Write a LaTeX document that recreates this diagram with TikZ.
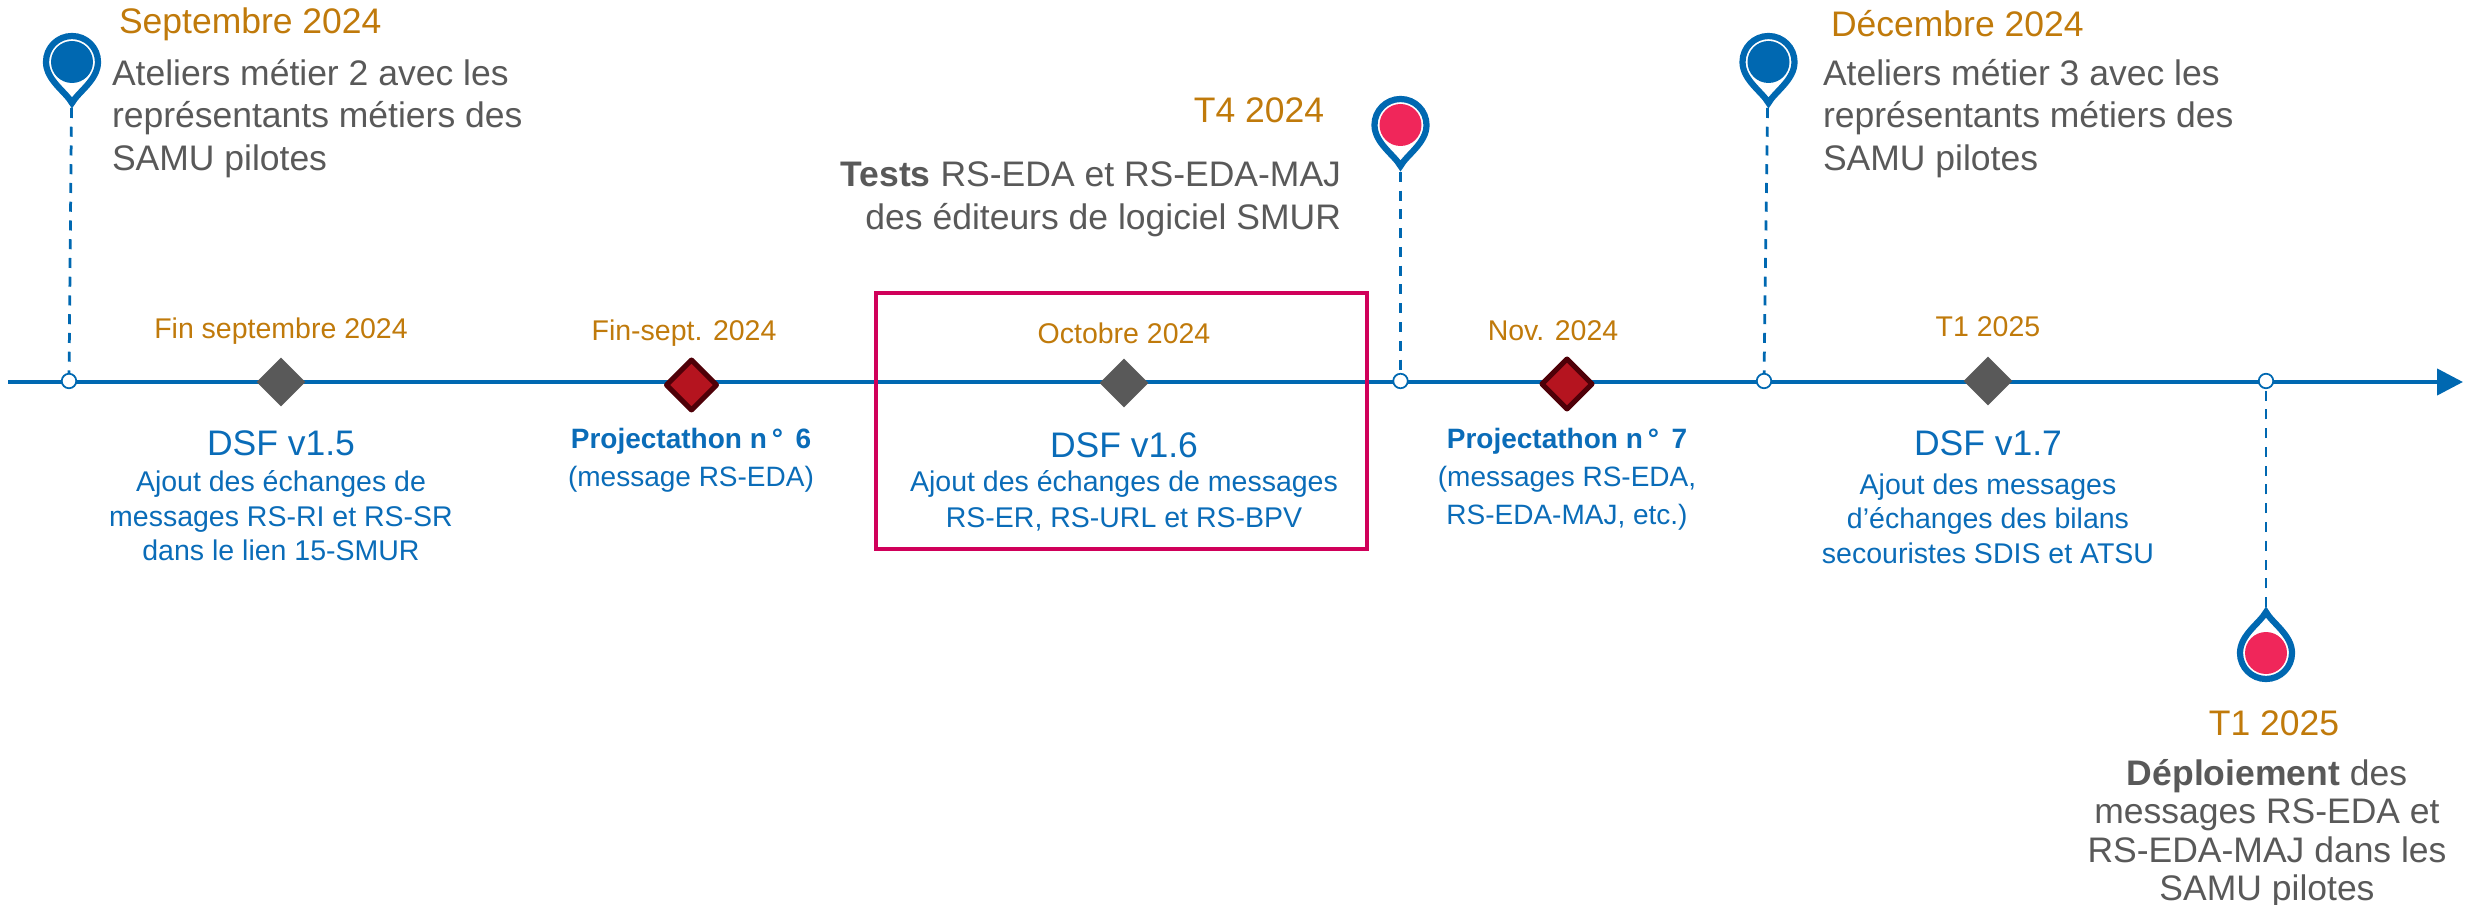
\documentclass[tikz,border=0pt]{standalone}
\usepackage{fontspec}
\setmainfont{Liberation Sans}
\usetikzlibrary{arrows.meta,shapes.geometric}
\definecolor{lineblue}{HTML}{0068B1}
\definecolor{noteblue}{HTML}{0A6CB8}
\definecolor{dateorange}{HTML}{C07A0B}
\definecolor{textgray}{HTML}{595959}
\definecolor{boxred}{HTML}{D0005A}
\definecolor{dotpink}{HTML}{F0265A}
\definecolor{redfill}{HTML}{B5141F}
\definecolor{reddark}{HTML}{4F0008}
\newcommand{\bigtxt}{\fontsize{14.2pt}{17.1pt}\selectfont}
\newcommand{\smalltxt}{\fontsize{11.4pt}{13.7pt}\selectfont}
\newcommand{\projtxt}{\fontsize{11.2pt}{15.2pt}\selectfont}
\begin{document}
\begin{tikzpicture}[x=0.4pt,y=-0.4pt]
\tikzset{ >=latex, inner sep=0pt, outer sep=0pt,
  bigdate/.style={text=dateorange, font=\bigtxt},
  bignote/.style={text=textgray, font=\bigtxt},
  smalldate/.style={text=dateorange, font=\smalltxt},
  dsftitle/.style={text=noteblue, font=\bigtxt},
  smallnote/.style={text=noteblue, font=\smalltxt, align=center},
  projnote/.style={text=noteblue, font=\projtxt, align=center},
  gray diamond/.style={diamond, aspect=1, fill=textgray, minimum size=19.5pt},
  red diamond/.style={diamond, aspect=1.07, fill=redfill, draw=reddark, line width=2pt, line join=round, minimum size=20pt},
  stem/.style={lineblue, line width=1.1pt, dash pattern=on 4pt off 3.5pt},
  dot/.style={circle, fill=white, draw=lineblue, line width=0.7pt, minimum size=5.8pt},
  pin/.pic={
    \draw [lineblue, line width=2.5pt, line join=miter, fill=white]
      (0,41) .. controls (-6,30) and (-26,18) .. (-26,0)
      arc (180:360:26) .. controls (26,18) and (6,30) .. cycle;
  },
}
\useasboundingbox (0,0) rectangle (2474,905);

%\draw [lightgray, dashed](0,0) rectangle (2474,905);

\coordinate (LS) at (8,382);
\coordinate (LE) at (2463,382);
\draw [-{Triangle[length=10.4pt,width=10.4pt]}, lineblue, line width=1.7pt] (LS) -- (LE);

% pins
\pic at (72,62) {pin};
\pic at (1400.5,125) {pin};
\pic at (1768.5,62) {pin};
\pic [yscale=-1] at (2266,653) {pin};

\node [circle, fill=lineblue, minimum size=16.8pt] (P1) at (72,62) {};
\node [circle, fill=dotpink, minimum size=16.8pt] (P2) at (1400.5,125) {};
\node [circle, fill=lineblue, minimum size=16.8pt] (P3) at (1768.5,62) {};
\node [circle, fill=dotpink, minimum size=16.8pt] (P4) at (2266,653) {};

\coordinate (T1) at (71.5,108);
\coordinate (T2) at (1400.5,172);
\coordinate (T3) at (1767.5,108);
\coordinate (T4) at (2266,607);

\node [dot] (C1) at (69,381) {};
\node [dot] (C2) at (1400.5,381) {};
\node [dot] (C3) at (1764,381) {};
\node [dot] (C4) at (2266,381) {};

\draw [stem] (T1) -- (C1);
\draw [stem] (T2) -- (C2);
\draw [stem] (T3) -- (C3);
\draw [stem] (T4) -- (C4);

% diamonds
\node [gray diamond] (D1) at (281,382) {};
\node [red diamond] (D2) at (691.5,385) {};
\node [gray diamond] (D3) at (1124,383) {};
\node [red diamond] (D4) at (1567,384) {};
\node [gray diamond] (D5) at (1988,381) {};

% frame
\node [draw=boxred, line width=1.7pt, minimum width=196.4pt, minimum height=102.4pt] (FR) at (1121.5,421) {};

% upper notes
\node [bigdate, anchor=west] (N1) at (119,24) {Septembre 2024};
\node [bignote, anchor=north west, align=left] (N1a) at (112,59) {Ateliers métier 2 avec les\\représentants métiers des\\SAMU pilotes};
\node [bigdate] (N2) at (1259,110) {T4 2024};
\node [bignote, anchor=north east, align=right] (N2a) at (1341,162) {\textbf{Tests} RS-EDA et RS-EDA-MAJ\\des éditeurs de logiciel SMUR};
\node [bigdate, anchor=west] (N3) at (1831,24) {Décembre 2024};
\node [bignote, anchor=north west, align=left] (N3a) at (1823,59) {Ateliers métier 3 avec les\\représentants métiers des\\SAMU pilotes};
\node [bigdate] (N4) at (2274,723) {T1 2025};
\node [bignote, anchor=north, align=center, font=\fontsize{14.2pt}{15.4pt}\selectfont] (N4a) at (2267,759) {\textbf{Déploiement} des\\messages RS-EDA et\\RS-EDA-MAJ dans les\\SAMU pilotes};

% dates over the line
\node [smalldate] (S1) at (281,331) {Fin septembre 2024};
\node [smalldate] (S2) at (684,333) {Fin-sept. 2024};
\node [smalldate] (S3) at (1124,333) {Octobre 2024};
\node [smalldate] (S4) at (1553,331) {Nov. 2024};
\node [smalldate] (S5) at (1988,327) {T1 2025};

% notes under the line
\node [dsftitle] (E1) at (281,443) {DSF v1.5};
\node [smallnote, anchor=north] (E1a) at (281,471) {Ajout des échanges de\\messages RS-RI et RS-SR\\dans le lien 15-SMUR};
\node [projnote, anchor=north] (E2) at (691,428) {\textbf{Projectathon n\hspace{2pt}°\hspace{5pt}6}\\(message RS-EDA)};
\node [dsftitle] (E3) at (1124,445) {DSF v1.6};
\node [smallnote, anchor=north, font=\fontsize{11.4pt}{14.4pt}\selectfont] (E3a) at (1124,471) {Ajout des échanges de messages\\RS-ER, RS-URL et RS-BPV};
\node [projnote, anchor=north] (E4) at (1567,428) {\textbf{Projectathon n\hspace{2pt}°\hspace{5pt}7}\\(messages RS-EDA,\\RS-EDA-MAJ, etc.)};
\node [dsftitle] (E5) at (1988,443) {DSF v1.7};
\node [smallnote, anchor=north] (E5a) at (1988,474) {Ajout des messages\\d’échanges des bilans\\secouristes SDIS et ATSU};
\end{tikzpicture}
\end{document}
